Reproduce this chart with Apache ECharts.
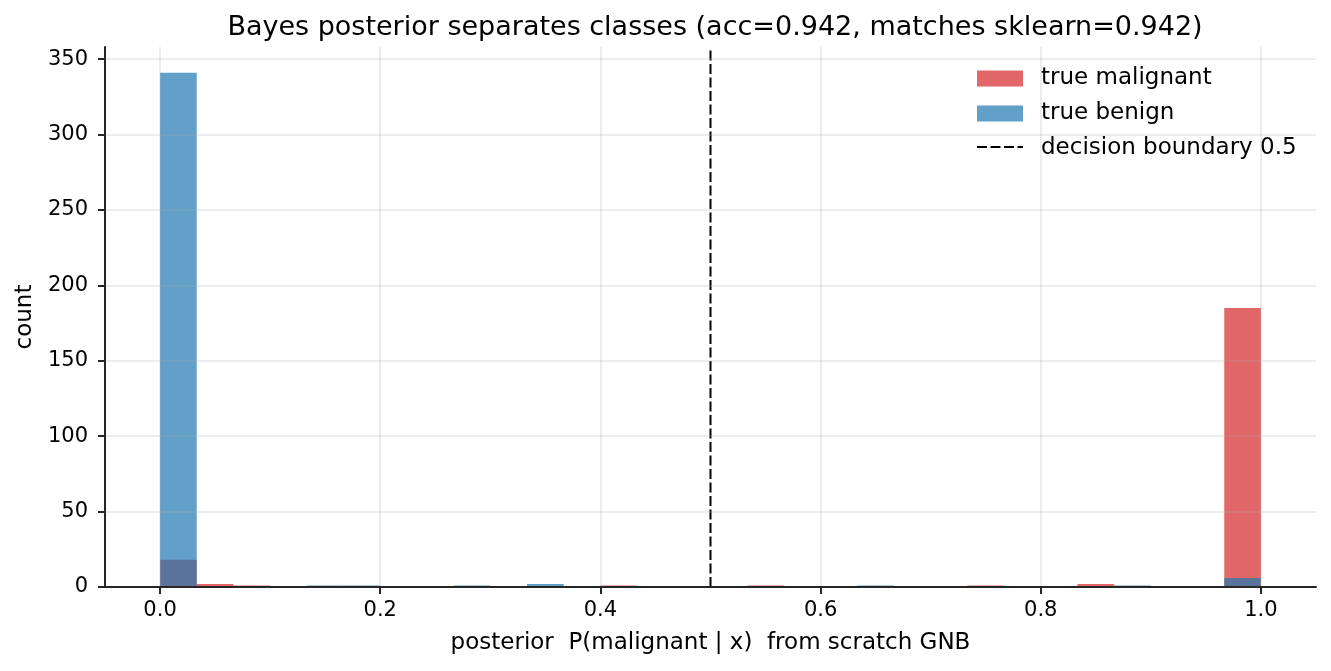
<!DOCTYPE html>
<html>
<head>
<meta charset="utf-8">
<script src="https://cdn.jsdelivr.net/npm/echarts@6/dist/echarts.min.js"></script>
<style>
  html, body { margin: 0; padding: 0; background: #fff; }
  #main { width: 1331px; height: 671px; }
</style>
</head>
<body>
<div id="main"></div>
<script>
// 30 histogram bins over [0, 1]
var binCount = 30;
var malignantCounts = [18, 2, 1, 0, 0, 0, 0, 0, 0, 0, 0, 0, 1, 0, 0, 0, 1, 0, 0, 0, 0, 0, 1, 0, 0, 2, 0, 0, 0, 185];
var benignCounts = [341, 0, 0, 0, 1, 1, 0, 0, 1, 0, 2, 0, 0, 0, 0, 0, 0, 0, 0, 1, 0, 0, 0, 0, 0, 0, 1, 0, 0, 6];
var xTicks = [0, 0.2, 0.4, 0.6, 0.8, 1.0];
var yTicks = [0, 50, 100, 150, 200, 250, 300, 350];
var boundary = 0.5;

var font = 'DejaVu Sans';
var gridColor = 'rgba(176,176,176,0.3)';
var dash = [10, 3.5];

function toBins(counts) {
  return counts.map(function (c, i) {
    return [i / binCount, (i + 1) / binCount, c];
  });
}

function renderBar(params, api) {
  var p0 = api.coord([api.value(0), api.value(2)]);
  var p1 = api.coord([api.value(1), 0]);
  return {
    type: 'rect',
    shape: { x: p0[0], y: p0[1], width: p1[0] - p0[0], height: p1[1] - p0[1] },
    style: api.style()
  };
}

var myChart = echarts.init(document.getElementById('main'), null, { renderer: 'canvas' });

var option = {
  animation: false,
  title: {
    text: 'Bayes posterior separates classes (acc=0.942, matches sklearn=0.942)',
    left: 710,
    top: 9,
    textAlign: 'center',
    textStyle: { fontFamily: font, fontSize: 27, fontWeight: 'normal', color: '#000' }
  },
  legend: {
    orient: 'vertical',
    left: 972,
    top: 67,
    padding: [0, 5],
    itemGap: 12,
    itemWidth: 46,
    itemHeight: 16,
    textStyle: { fontFamily: font, fontSize: 23, color: '#000', padding: [0, 0, 0, 13] },
    data: [
      { name: 'true malignant', icon: 'rect' },
      { name: 'true benign', icon: 'rect' },
      { name: 'decision boundary 0.5', icon: 'none' }
    ]
  },
  // dashed swatch for the boundary entry of the legend
  graphic: [{
    type: 'line',
    shape: { x1: 977, y1: 147, x2: 1023, y2: 147 },
    style: { stroke: '#000', lineWidth: 2, lineDash: dash }
  }],
  grid: { left: 105, right: 15, top: 47, bottom: 84 },
  xAxis: {
    type: 'value',
    min: -0.05,
    max: 1.05,
    z: 10,
    name: 'posterior  P(malignant | x)  from scratch GNB',
    nameLocation: 'middle',
    nameGap: 45,
    nameTextStyle: { fontFamily: font, fontSize: 23, color: '#000' },
    axisLine: { onZero: false, lineStyle: { color: '#262626', width: 2 } },
    axisTick: { show: true, customValues: xTicks, length: 7, lineStyle: { color: '#262626', width: 2 } },
    axisLabel: {
      customValues: xTicks, fontFamily: font, fontSize: 21, color: '#000', margin: 13,
      formatter: function (v) { return v.toFixed(1); }
    },
    splitLine: { show: true, lineStyle: { color: gridColor, width: 1.6 } }
  },
  yAxis: {
    type: 'value',
    min: 0,
    max: 358.05,
    z: 10,
    name: 'count',
    nameLocation: 'middle',
    nameGap: 68,
    nameTextStyle: { fontFamily: font, fontSize: 23, color: '#000' },
    axisLine: { show: true, onZero: false, lineStyle: { color: '#262626', width: 2 } },
    axisTick: { show: true, customValues: yTicks, length: 7, lineStyle: { color: '#262626', width: 2 } },
    axisLabel: { customValues: yTicks, fontFamily: font, fontSize: 21, color: '#000', margin: 17 },
    splitLine: { show: true, lineStyle: { color: gridColor, width: 1.6 } }
  },
  series: [
    {
      name: 'true malignant',
      type: 'custom',
      renderItem: renderBar,
      encode: { x: [0, 1], y: 2 },
      itemStyle: { color: '#d62728', opacity: 0.7 },
      data: toBins(malignantCounts),
      z: 2
    },
    {
      name: 'true benign',
      type: 'custom',
      renderItem: renderBar,
      encode: { x: [0, 1], y: 2 },
      itemStyle: { color: '#1f77b4', opacity: 0.7 },
      data: toBins(benignCounts),
      z: 3
    },
    {
      name: 'decision boundary 0.5',
      type: 'line',
      symbol: 'none',
      color: '#000',
      lineStyle: { color: '#000', width: 2, type: dash },
      data: [[boundary, 0], [boundary, 358.05]],
      z: 4
    }
  ]
};

myChart.setOption(option);
</script>
</body>
</html>
